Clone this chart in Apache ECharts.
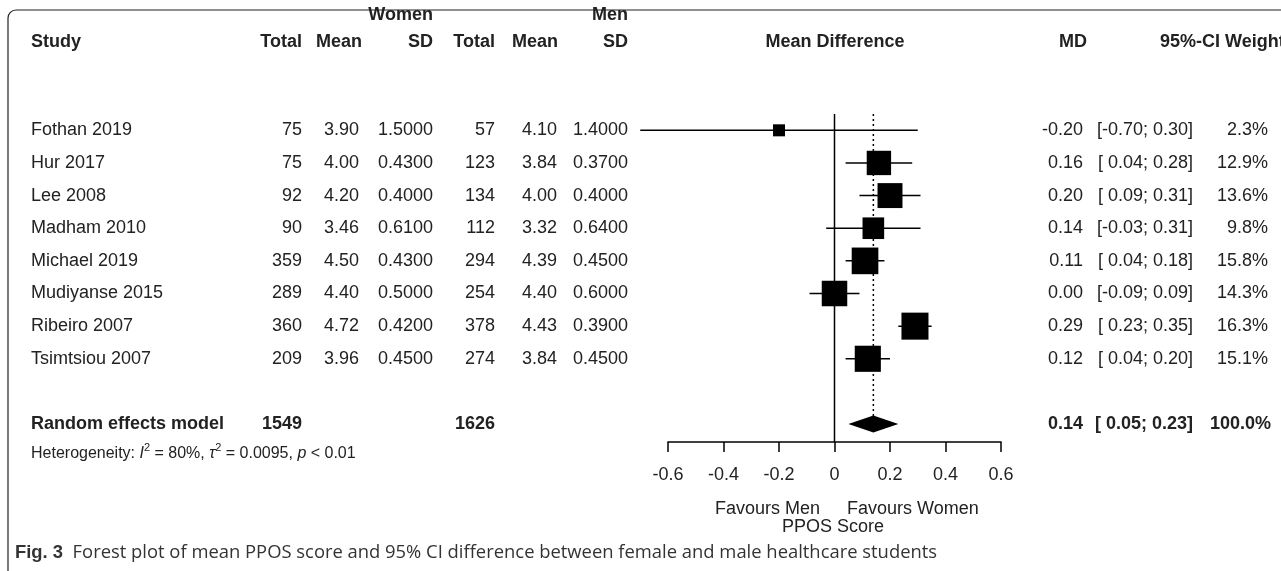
<!DOCTYPE html>
<html>
<head>
<meta charset="utf-8">
<script src="https://cdn.jsdelivr.net/npm/echarts@6/dist/echarts.min.js"></script>
<style>
    html, body { margin: 0; background: #fff; }
    #chart { width: 1281px; height: 571px; }
</style>
</head>
<body>
<div id="chart"></div>
<script>
// study rows
const studies = ['Fothan 2019', 'Hur 2017', 'Lee 2008', 'Madham 2010', 'Michael 2019', 'Mudiyanse 2015', 'Ribeiro 2007', 'Tsimtsiou 2007']
const womenTotal = [75, 75, 92, 90, 359, 289, 360, 209]
const womenMean = [3.90, 4.00, 4.20, 3.46, 4.50, 4.40, 4.72, 3.96]
const womenSD = [1.5, 0.43, 0.40, 0.61, 0.43, 0.50, 0.42, 0.45]
const menTotal = [57, 123, 134, 112, 294, 254, 378, 274]
const menMean = [4.10, 3.84, 4.00, 3.32, 4.39, 4.40, 4.43, 3.84]
const menSD = [1.4, 0.37, 0.40, 0.64, 0.45, 0.60, 0.39, 0.45]
const md = [-0.20, 0.16, 0.20, 0.14, 0.11, 0.00, 0.29, 0.12]
const ciLower = [-0.70, 0.04, 0.09, -0.03, 0.04, -0.09, 0.23, 0.04]
const ciUpper = [0.30, 0.28, 0.31, 0.31, 0.18, 0.09, 0.35, 0.20]
const weight = [2.3, 12.9, 13.6, 9.8, 15.8, 14.3, 16.3, 15.1]

// random effects model
const pooledLabel = 'Random effects model'
const pooledWomenTotal = 1549
const pooledMenTotal = 1626
const pooledMD = 0.14
const pooledLower = 0.05
const pooledUpper = 0.23
const pooledWeight = 100.0
const pooledRow = 9

const xTicks = [-0.6, 0.6, 0.2] // min, max, step

const TXT = '#222'
const FAMILY = '"Liberation Sans", Arial, sans-serif'
const FONT = '18px ' + FAMILY
const BOLD = 'bold 18px ' + FAMILY

const f2 = v => v.toFixed(2)
const ci = (lo, hi) => '[' + (lo < 0 ? '' : ' ') + f2(lo) + '; ' + f2(hi) + ']'

const txt = (x, y, text, align, font) => ({
    type: 'text',
    style: { x, y, text, align, verticalAlign: 'middle', font: font || FONT, fill: TXT }
})

const chart = echarts.init(document.getElementById('chart'))

const studyData = studies.map((s, i) => [md[i], i, ciLower[i], ciUpper[i], weight[i]])

chart.setOption({
    animation: false,
    grid: { left: 668, right: 280, top: 114, bottom: 129 },
    xAxis: {
        type: 'value',
        position: 'bottom',
        min: xTicks[0],
        max: xTicks[1],
        interval: xTicks[2],
        axisLine: { show: true, onZero: false, lineStyle: { color: '#000', width: 1.5 } },
        axisTick: { show: true, length: 10, lineStyle: { color: '#000', width: 1.5 } },
        axisLabel: { fontSize: 18, color: TXT, margin: 24, fontFamily: FAMILY },
        splitLine: { show: false }
    },
    yAxis: { type: 'value', inverse: true, min: -0.5, max: 9.55, show: false },
    series: [
        {
            // line of no effect
            type: 'line',
            data: [[0, -0.5], [0, 9.55]],
            symbol: 'none',
            lineStyle: { color: '#000', width: 1.5 },
            silent: true
        },
        {
            // pooled estimate reference
            type: 'line',
            data: [[pooledMD, -0.5], [pooledMD, pooledRow]],
            symbol: 'none',
            lineStyle: { color: '#000', width: 1.5, type: [2, 3] },
            silent: true
        },
        {
            type: 'custom',
            data: studyData,
            renderItem: (params, api) => {
                const i = params.dataIndex
                const row = api.value(1)
                const c = api.coord([api.value(0), row])
                const lo = api.coord([api.value(2), row])
                const hi = api.coord([api.value(3), row])
                const s = 3 + 5.95 * Math.sqrt(api.value(4))
                const y = c[1]
                return {
                    type: 'group',
                    children: [
                        { type: 'line', shape: { x1: lo[0], y1: y, x2: hi[0], y2: y }, style: { stroke: '#000', lineWidth: 1.5 } },
                        { type: 'rect', shape: { x: c[0] - s / 2, y: y - s / 2, width: s, height: s }, style: { fill: '#000' } },
                        txt(31, y, studies[i], 'left'),
                        txt(302, y, String(womenTotal[i]), 'right'),
                        txt(359, y, f2(womenMean[i]), 'right'),
                        txt(433, y, womenSD[i].toFixed(4), 'right'),
                        txt(495, y, String(menTotal[i]), 'right'),
                        txt(557, y, f2(menMean[i]), 'right'),
                        txt(628, y, menSD[i].toFixed(4), 'right'),
                        txt(1083, y, f2(md[i]), 'right'),
                        txt(1193, y, ci(ciLower[i], ciUpper[i]), 'right'),
                        txt(1268, y, weight[i].toFixed(1) + '%', 'right')
                    ]
                }
            }
        },
        {
            type: 'custom',
            data: [[pooledMD, pooledRow, pooledLower, pooledUpper]],
            renderItem: (params, api) => {
                const row = api.value(1)
                const c = api.coord([api.value(0), row])
                const lo = api.coord([api.value(2), row])
                const hi = api.coord([api.value(3), row])
                const y = c[1]
                const h = 8.5
                return {
                    type: 'group',
                    children: [
                        {
                            type: 'polygon',
                            shape: { points: [[lo[0], y], [c[0], y - h], [hi[0], y], [c[0], y + h]] },
                            style: { fill: '#000' }
                        },
                        txt(31, y, pooledLabel, 'left', BOLD),
                        txt(302, y, String(pooledWomenTotal), 'right', BOLD),
                        txt(495, y, String(pooledMenTotal), 'right', BOLD),
                        txt(1083, y, f2(pooledMD), 'right', BOLD),
                        txt(1193, y, ci(pooledLower, pooledUpper), 'right', BOLD),
                        txt(1271, y, pooledWeight.toFixed(1) + '%', 'right', BOLD)
                    ]
                }
            }
        }
    ],
    graphic: [
        {
            type: 'rect',
            shape: { x: 8, y: 10, width: 1300, height: 620, r: 8 },
            style: { fill: 'none', stroke: '#222', lineWidth: 1.2 },
            silent: true
        },
        txt(433, 15, 'Women', 'right', BOLD),
        txt(628, 15, 'Men', 'right', BOLD),
        txt(31, 42, 'Study', 'left', BOLD),
        txt(302, 42, 'Total', 'right', BOLD),
        txt(362, 42, 'Mean', 'right', BOLD),
        txt(433, 42, 'SD', 'right', BOLD),
        txt(495, 42, 'Total', 'right', BOLD),
        txt(558, 42, 'Mean', 'right', BOLD),
        txt(628, 42, 'SD', 'right', BOLD),
        txt(835, 42, 'Mean Difference', 'center', BOLD),
        txt(1087, 42, 'MD', 'right', BOLD),
        txt(1220, 42, '95%-CI', 'right', BOLD),
        txt(1225, 42, 'Weight', 'left', BOLD),
        {
            type: 'text',
            style: {
                x: 31, y: 454,
                text: 'Heterogeneity: {i|I}{s|2} = 80%, {i|\u03c4}{s|2} = 0.0095, {i|p} < 0.01',
                font: '16px ' + FAMILY,
                fill: TXT,
                verticalAlign: 'middle',
                lineHeight: 24,
                rich: {
                    i: { fontStyle: 'italic', fontSize: 16, lineHeight: 24, fill: TXT },
                    s: { fontSize: 11, lineHeight: 12, verticalAlign: 'top', fill: TXT }
                }
            }
        },
        txt(820, 509, 'Favours Men', 'right'),
        txt(847, 509, 'Favours Women', 'left'),
        txt(833, 527, 'PPOS Score', 'center'),
        {
            type: 'text',
            style: {
                x: 15, y: 553,
                text: '{b|Fig. 3}  Forest plot of mean PPOS score and 95% CI difference between female and male healthcare students',
                font: '18.4px "Open Sans", sans-serif',
                fill: '#333',
                verticalAlign: 'middle',
                rich: {
                    b: { fontWeight: 'bold', fontSize: 18.4, fill: '#333' }
                }
            }
        }
    ]
})
</script>
</body>
</html>
